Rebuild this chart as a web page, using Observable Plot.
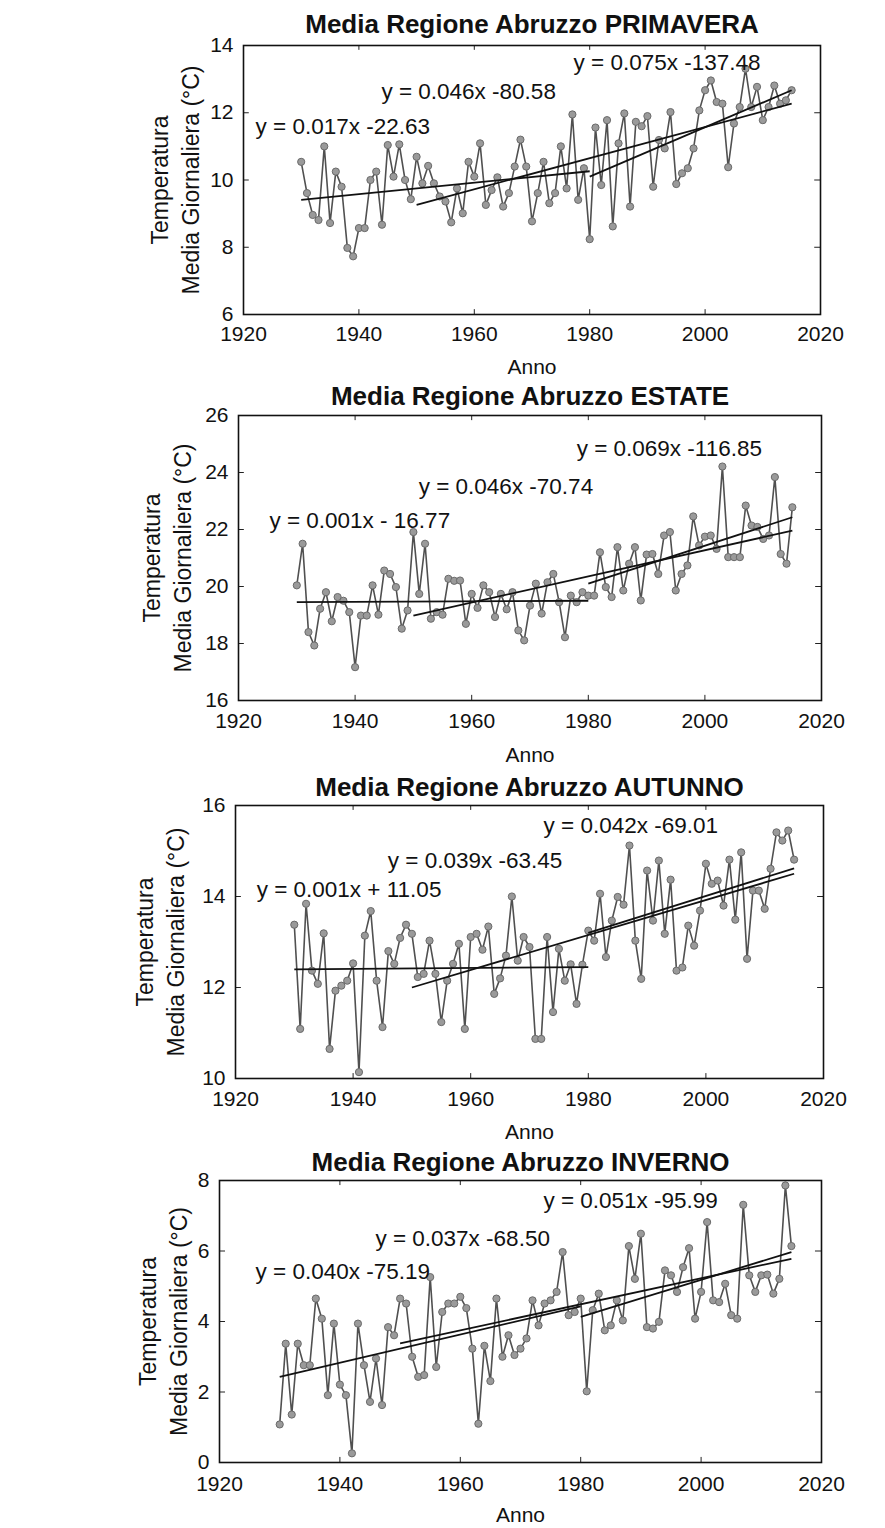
<!DOCTYPE html>
<html><head><meta charset="utf-8">
<script src="https://cdn.jsdelivr.net/npm/d3@7"></script>
<script src="https://cdn.jsdelivr.net/npm/@observablehq/plot@0.6"></script>
<style>
html,body{margin:0;padding:0;background:#fff;}
#wrap{position:relative;width:885px;height:1528px;overflow:hidden;background:#fff;}
.panel{position:absolute;left:0;}
</style></head><body><div id="wrap"></div>
<script>
// ---- data ----
const years = d3.range(1930, 2016);
const xTicks = [1920, 1940, 1960, 1980, 2000, 2020];

const primavera = [10.54,9.61,8.96,8.81,11.0,8.72,10.25,9.8,7.98,7.73,
8.57,8.57,10.0,10.25,8.67,11.04,10.1,11.06,10.0,9.43,
10.69,9.9,10.42,9.9,9.51,9.36,8.74,9.75,9.01,10.54,
10.1,11.09,9.26,9.7,10.08,9.21,9.61,10.4,11.2,10.4,
8.77,9.61,10.54,9.31,9.61,11.0,9.75,11.95,9.41,10.35,
8.24,11.56,9.85,11.78,8.62,11.09,11.98,9.21,11.73,11.6,
11.9,9.8,11.19,10.94,12.02,9.88,10.2,10.35,10.94,12.07,
12.67,12.96,12.32,12.27,10.38,11.68,12.17,13.31,12.17,12.77,
11.78,12.17,12.81,12.27,12.37,12.67];

const estate = [20.04,21.5,18.4,17.93,19.22,19.8,18.78,19.63,19.5,19.1,
17.17,18.98,18.98,20.04,19.01,20.56,20.44,19.98,18.52,19.16,
21.91,19.74,21.5,18.87,19.1,19.01,20.27,20.2,20.21,18.69,
19.74,19.25,20.04,19.8,18.93,19.74,19.2,19.8,18.46,18.11,
19.33,20.1,19.05,20.15,20.44,19.45,18.22,19.68,19.45,19.8,
19.68,19.68,21.2,19.98,19.63,21.38,19.86,20.8,21.38,19.51,
21.12,21.14,20.44,21.79,21.91,19.86,20.44,20.74,22.46,21.44,
21.75,21.79,21.32,24.21,21.03,21.03,21.03,22.84,22.14,22.09,
21.67,21.79,23.84,21.14,20.8,22.78];

const autunno = [13.38,11.09,13.84,12.37,12.08,13.19,10.65,11.93,12.04,12.15,
12.53,10.14,13.14,13.68,12.15,11.13,12.8,12.52,13.09,13.38,
13.18,12.23,12.3,13.03,12.3,11.24,12.15,12.52,12.96,11.09,
13.11,13.18,12.83,13.34,11.86,12.2,12.7,14.0,12.59,13.11,
12.89,10.87,10.87,13.11,11.46,12.85,12.15,12.51,11.64,12.5,
13.25,13.03,14.06,12.67,13.47,13.99,13.82,15.12,13.03,12.19,
14.57,13.47,14.79,13.18,14.37,12.37,12.44,13.36,12.92,13.69,
14.72,14.28,14.35,13.8,14.81,13.49,14.97,12.63,14.13,14.13,
13.73,14.61,15.41,15.23,15.45,14.81];

const inverno = [1.08,3.37,1.36,3.37,2.76,2.76,4.65,4.08,1.91,3.94,
2.21,1.91,0.26,3.94,2.76,1.72,2.95,1.63,3.84,3.61,
4.65,4.51,3.0,2.43,2.48,5.26,2.71,4.27,4.51,4.51,
4.7,4.38,3.23,1.1,3.31,2.31,4.65,3.0,3.61,3.05,
3.23,3.52,4.6,3.89,4.51,4.6,4.84,5.97,4.18,4.27,
4.65,2.02,4.32,4.79,3.75,3.89,4.6,4.03,6.14,5.21,
6.49,3.84,3.8,3.99,5.45,5.31,4.84,5.54,6.08,4.08,
4.84,6.82,4.6,4.55,5.07,4.18,4.08,7.31,5.31,4.84,
5.31,5.33,4.79,5.21,7.86,6.14];

// trend segments (start year, end year, start value, end value)
const trendStartYear = [1930, 1950, 1980];
const trendEndYear   = [1980, 2015, 2015];
const primaveraTrendStart = [9.41, 9.26, 10.1];
const primaveraTrendEnd   = [10.26, 12.27, 12.67];
const estateTrendStart = [19.45, 18.98, 20.1];
const estateTrendEnd   = [19.5, 21.96, 22.43];
const autunnoTrendStart = [12.4, 12.0, 13.2];
const autunnoTrendEnd   = [12.45, 14.5, 14.62];
const invernoTrendStart = [2.43, 3.38, 4.13];
const invernoTrendEnd   = [4.43, 5.78, 5.97];

// equation labels
const primaveraEq = ["y = 0.017x -22.63", "y = 0.046x -80.58", "y = 0.075x -137.48"];
const primaveraEqYear = [1922.1, 1943.9, 1977.2];
const primaveraEqTemp = [11.57, 12.61, 13.5];
const estateEq = ["y = 0.001x - 16.77", "y = 0.046x -70.74", "y = 0.069x -116.85"];
const estateEqYear = [1925.3, 1950.9, 1978.0];
const estateEqTemp = [22.32, 23.51, 24.84];
const autunnoEq = ["y = 0.001x + 11.05", "y = 0.039x -63.45", "y = 0.042x -69.01"];
const autunnoEqYear = [1923.6, 1945.9, 1972.4];
const autunnoEqTemp = [14.15, 14.79, 15.56];
const invernoEq = ["y = 0.040x -75.19", "y = 0.037x -68.50", "y = 0.051x -95.99"];
const invernoEqYear = [1926.0, 1945.9, 1973.8];
const invernoEqTemp = [5.40, 6.35, 7.43];

const titles = ["Media Regione Abruzzo PRIMAVERA", "Media Regione Abruzzo ESTATE",
                "Media Regione Abruzzo AUTUNNO", "Media Regione Abruzzo INVERNO"];
const yDomains = [[6, 14], [16, 26], [10, 16], [0, 8]];
const yTickSets = [[6, 8, 10, 12, 14], [16, 18, 20, 22, 24, 26], [10, 12, 14, 16], [0, 2, 4, 6, 8]];

// ---- layout ----
const layouts = [
  {top: 0,    height: 380, mt: 45, mb: 66, ml: 243, mr: 65, titleDy: -21, labelDx: -70, tickDy: 23, annoDy: 53},
  {top: 380,  height: 390, mt: 35, mb: 70, ml: 238, mr: 64, titleDy: -19, labelDx: -73, tickDy: 24, annoDy: 55},
  {top: 770,  height: 380, mt: 35, mb: 72, ml: 235, mr: 62, titleDy: -18, labelDx: -77, tickDy: 24, annoDy: 54},
  {top: 1150, height: 378, mt: 30, mb: 66, ml: 219, mr: 64, titleDy: -18, labelDx: -58, tickDy: 25, annoDy: 53}
];

const seriesList = [primavera, estate, autunno, inverno];
const trendStarts = [primaveraTrendStart, estateTrendStart, autunnoTrendStart, invernoTrendStart];
const trendEnds = [primaveraTrendEnd, estateTrendEnd, autunnoTrendEnd, invernoTrendEnd];
const eqTexts = [primaveraEq, estateEq, autunnoEq, invernoEq];
const eqYears = [primaveraEqYear, estateEqYear, autunnoEqYear, invernoEqYear];
const eqTemps = [primaveraEqTemp, estateEqTemp, autunnoEqTemp, invernoEqTemp];

const FONT = "'Liberation Sans', Arial, Helvetica, sans-serif";
const wrap = document.getElementById("wrap");

seriesList.forEach((vals, i) => {
  const L = layouts[i];
  const [y0, y1] = yDomains[i];
  const span = y1 - y0;
  const data = years.map((yr, k) => ({year: yr, t: vals[k]}));
  const trends = trendStartYear.map((s, k) => ({x1: s, x2: trendEndYear[k], y1: trendStarts[i][k], y2: trendEnds[i][k]}));
  const eqs = eqTexts[i].map((t, k) => ({text: t, x: eqYears[i][k], y: eqTemps[i][k]}));

  const chart = Plot.plot({
    width: 885,
    height: L.height,
    marginTop: L.mt,
    marginBottom: L.mb,
    marginLeft: L.ml,
    marginRight: L.mr,
    style: {fontFamily: FONT, fontSize: "21px", color: "#111", background: "transparent", overflow: "visible"},
    x: {domain: [1920, 2020], label: null},
    y: {domain: yDomains[i], label: null},
    marks: [
      Plot.axisX({ticks: xTicks, tickFormat: "d", tickSize: 0, tickPadding: L.tickDy - 11, fontSize: 21, label: null}),
      Plot.axisY({ticks: yTickSets[i], tickFormat: "d", tickSize: 0, tickPadding: 10, fontSize: 21, label: null}),
      // inward tick marks
      Plot.ruleX(xTicks, {x: d => d, y1: y0, y2: y0 + span * 0.018, stroke: "#222", strokeWidth: 1}),
      Plot.ruleX(xTicks, {x: d => d, y1: y1, y2: y1 - span * 0.018, stroke: "#222", strokeWidth: 1}),
      Plot.ruleY(yTickSets[i], {y: d => d, x1: 1920, x2: 1921, stroke: "#222", strokeWidth: 1}),
      Plot.ruleY(yTickSets[i], {y: d => d, x1: 2020, x2: 2019, stroke: "#222", strokeWidth: 1}),
      Plot.line(data, {x: "year", y: "t", stroke: "#505050", strokeWidth: 1.6}),
      Plot.dot(data, {x: "year", y: "t", r: 3.6, fill: "#9a9a9a", stroke: "#6a6a6a", strokeWidth: 1}),
      Plot.link(trends, {x1: "x1", y1: "y1", x2: "x2", y2: "y2", stroke: "#111", strokeWidth: 1.8}),
      Plot.text(eqs, {x: "x", y: "y", text: "text", textAnchor: "start", lineAnchor: "middle", fontSize: 22.5, fill: "#111"}),
      Plot.frame({stroke: "#111", strokeWidth: 1.6}),
      Plot.text([titles[i]], {frameAnchor: "top", textAnchor: "middle", lineAnchor: "middle", dy: L.titleDy, fontSize: 26, fontWeight: "bold", fill: "#111"}),
      Plot.text(["Temperatura\nMedia Giornaliera (°C)"], {frameAnchor: "left", textAnchor: "middle", lineAnchor: "middle", dx: L.labelDx, rotate: -90, lineHeight: 1.36, fontSize: 23, fill: "#111"}),
      Plot.text(["Anno"], {frameAnchor: "bottom", textAnchor: "middle", lineAnchor: "middle", dy: L.annoDy, fontSize: 21, fill: "#111"})
    ]
  });
  chart.classList.add("panel");
  chart.style.top = L.top + "px";
  chart.style.position = "absolute";
  wrap.appendChild(chart);
});
</script>
</body></html>
